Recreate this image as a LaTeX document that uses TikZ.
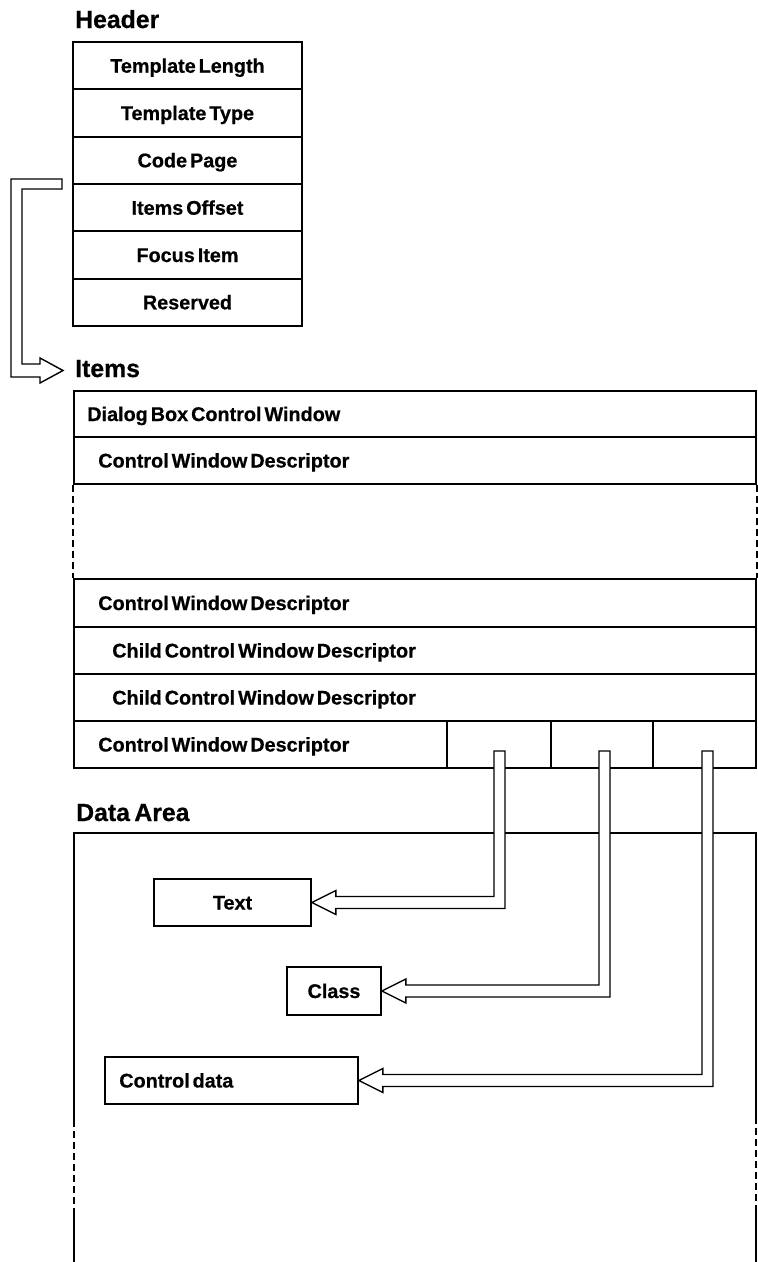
\documentclass[tikz,border=0pt]{standalone}
\usepackage{fontspec}
\setmainfont{Liberation Sans}[BoldFeatures={FakeBold=0.6}]
\usetikzlibrary{calc}
\newcommand\rowfnt{\fontsize{19.8}{22}\selectfont\bfseries\spaceskip=0.15em plus 0.05em\relax}
\newcommand\ttlfnt{\fontsize{24.8}{28}\selectfont\bfseries\spaceskip=0.18em plus 0.05em\relax}
\begin{document}
\begin{tikzpicture}[x=1pt,y=-1pt,
  box/.style={draw, line width=1.8pt, inner sep=0pt},
  rt/.style={font=\rowfnt, inner sep=0pt, text height=14pt, text depth=0pt},
  ttl/.style={font=\ttlfnt, inner sep=0pt, anchor=base west},
  hollow/.style={draw, fill=white, line width=1.4pt, line join=miter},
  dsh/.style={line width=2.4pt, dash pattern=on 7pt off 4pt},
  sld/.style={line width=1.8pt},
  hrow/.style={box, rt, minimum width=229pt, minimum height=47.33pt},
  irow/.style={box, minimum width=682pt, minimum height=47pt}]
\useasboundingbox (0,0) rectangle (758,1262);

% titles
\node[ttl] (thdr) at (75,28) {Header};
\node[ttl] (titems) at (75,377) {Items};
\node[ttl] (tdata) at (76,821) {Data Area};

% header rows
\node[hrow] (h1) at (187.5,65.7) {Template Length};
\node[hrow] (h2) at (187.5,113) {Template Type};
\node[hrow] (h3) at (187.5,160.3) {Code Page};
\node[hrow] (h4) at (187.5,207.7) {Items Offset};
\node[hrow] (h5) at (187.5,255) {Focus Item};
\node[hrow] (h6) at (187.5,302.3) {Reserved};

% items rows
\node[irow, minimum height=46pt] (i1) at (415,414) {};
\node[irow] (i2) at (415,460.5) {};
\node[irow, minimum height=48pt] (i3) at (415,603) {};
\node[irow] (i4) at (415,650.5) {};
\node[irow] (i5) at (415,697.5) {};
\node[irow] (i6) at (415,744.5) {};
\draw[dsh] (i2.south west) -- (i3.north west);
\draw[dsh] (i2.south east) -- (i3.north east);

\node[rt, anchor=west] (l1) at ($(i1.west)+(14,0)$) {Dialog Box Control Window};
\node[rt, anchor=west] (l2) at ($(i2.west)+(25,0)$) {Control Window Descriptor};
\node[rt, anchor=west] (l3) at ($(i3.west)+(25,0)$) {Control Window Descriptor};
\node[rt, anchor=west] (l4) at ($(i4.west)+(39,0)$) {Child Control Window Descriptor};
\node[rt, anchor=west] (l5) at ($(i5.west)+(39,0)$) {Child Control Window Descriptor};
\node[rt, anchor=west] (l6) at ($(i6.west)+(25,0)$) {Control Window Descriptor};

% last-row cells
\node[box, minimum width=104pt, minimum height=47pt] (c1) at (499,744.5) {};
\node[box, minimum width=102pt, minimum height=47pt] (c2) at (602,744.5) {};
\node[box, minimum width=103pt, minimum height=47pt] (c3) at (704.5,744.5) {};

% data area outline
\coordinate (dtl) at (74,833);
\coordinate (dtr) at (756,833);
\coordinate (dl1) at (74,1120);
\coordinate (dl2) at (74,1214);
\coordinate (dlb) at (74,1262);
\coordinate (dr1) at (756,1117);
\coordinate (dr2) at (756,1207);
\coordinate (drb) at (756,1262);
\draw[sld] (dl1) -- (dtl) -- (dtr) -- (dr1);
\draw[dsh] (dl1) -- (dl2);
\draw[dsh] (dr1) -- (dr2);
\draw[sld] (dl2) -- (dlb);
\draw[sld] (dr2) -- (drb);

% data boxes
\node[box, rt, minimum width=157pt, minimum height=47pt] (text) at (232.5,902.5) {Text};
\node[box, rt, minimum width=94pt, minimum height=48pt] (class) at (334,991) {Class};
\node[box, minimum width=253pt, minimum height=47pt] (cdata) at (231.5,1080.5) {};
\node[rt, anchor=west] (lcd) at ($(cdata.west)+(15,0)$) {Control data};

% post tops
\coordinate (t1) at (499.5,751);
\coordinate (t2) at (604.5,751);
\coordinate (t3) at (707.5,751);

% hollow arrows to data boxes
\draw[hollow] let \p1=(text.east), \p2=(t1) in
  (\p1) -- (\x1+24pt,\y1+12pt) -- (\x1+24pt,\y1+6pt) -- (\x2-5.5pt,\y1+6pt)
  -- (\x2-5.5pt,\y2) -- (\x2+5.5pt,\y2) -- (\x2+5.5pt,\y1-6pt)
  -- (\x1+24pt,\y1-6pt) -- (\x1+24pt,\y1-12pt) -- cycle;
\draw[hollow] let \p1=(class.east), \p2=(t2) in
  (\p1) -- (\x1+24pt,\y1+12pt) -- (\x1+24pt,\y1+6pt) -- (\x2-5.5pt,\y1+6pt)
  -- (\x2-5.5pt,\y2) -- (\x2+5.5pt,\y2) -- (\x2+5.5pt,\y1-6pt)
  -- (\x1+24pt,\y1-6pt) -- (\x1+24pt,\y1-12pt) -- cycle;
\draw[hollow] let \p1=(cdata.east), \p2=(t3) in
  (\p1) -- (\x1+24pt,\y1+12pt) -- (\x1+24pt,\y1+6pt) -- (\x2-5.5pt,\y1+6pt)
  -- (\x2-5.5pt,\y2) -- (\x2+5.5pt,\y2) -- (\x2+5.5pt,\y1-6pt)
  -- (\x1+24pt,\y1-6pt) -- (\x1+24pt,\y1-12pt) -- cycle;

% hollow arrow from header to items
\coordinate (hs) at (62,184);
\coordinate (ht) at (63,370.5);
\draw[hollow] let \p1=(hs), \p2=(ht) in
  (\x1,\y1+5pt) -- (11pt,\y1+5pt) -- (11pt,\y2-6.5pt) -- (\x2-23pt,\y2-6.5pt)
  -- (\x2-23pt,\y2-12.5pt) -- (\p2) -- (\x2-23pt,\y2+12.5pt) -- (\x2-23pt,\y2+6.5pt)
  -- (22pt,\y2+6.5pt) -- (22pt,\y1-5pt) -- (\x1,\y1-5pt) -- cycle;
\end{tikzpicture}
\end{document}
